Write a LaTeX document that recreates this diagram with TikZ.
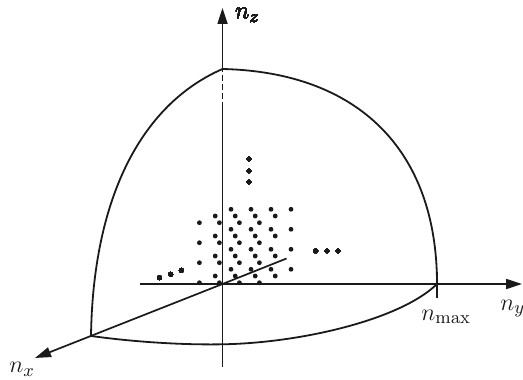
\documentclass[tikz,border=0pt]{standalone}
\usepackage{tikz}
\usetikzlibrary{arrows.meta,calc}
\definecolor{mInk}{HTML}{1A1A1A}
\tikzset{
  axisline/.style={line width=0.85pt, draw=mInk},
  axisarrow/.style={axisline, -{Triangle[length=8pt,width=5pt]}},
  hidline/.style={axisline, dash pattern=on 3pt off 1.5pt},
  shellline/.style={line width=0.9pt, draw=mInk},
  axislabel/.style={anchor=base west, inner sep=0pt, font=\fontsize{13}{15}\selectfont, text=mInk}
}
\newcommand{\ndot}[1]{\fill[mInk] #1 circle (1.2pt);}

\begin{document}
\begin{tikzpicture}[x=0.5pt,y=-0.5pt]
\useasboundingbox (0,0) rectangle (523,379);
% points of the axes and the shell
\coordinate (O) at (222.5,284);
\coordinate (zbot) at (222.5,367);
\coordinate (zhid) at (222.5,108);
\coordinate (ztop) at (222.5,69);
\coordinate (ztip) at (222.5,8);
\coordinate (zlow) at (222.5,344.3);
\coordinate (yback) at (140,284);
\coordinate (ymax) at (437,284);
\coordinate (ytip) at (522,284);
\coordinate (xback) at (286.5,258.5);
\coordinate (xmax) at (91,336);
\coordinate (xtip) at (35,358);
% axes
\draw[axisline] (zbot) -- (zhid);
\draw[hidline] (zhid) -- (ztop);
\draw[axisarrow] (ztop) -- (ztip);
\draw[axisarrow] (yback) -- (ytip);
\draw[axisarrow] (xback) -- (O) -- (xtip);
\draw[axisline] ($(ymax)+(0,-12)$) -- ($(ymax)+(0,14)$);
% octant of the sphere
\draw[shellline] (xmax) .. controls (93,200) and (140,105) .. (ztop);
\draw[shellline] (ztop) .. controls (357,72) and (437,149) .. (ymax);
\draw[shellline] (xmax) .. controls (135,342) and (182,345) .. (zlow)
  .. controls (300,343) and (400,320) .. (ymax);
% lattice points
\foreach \k in {0,1,2}
  \foreach \j in {0,...,3}
    \foreach \i in {0,...,3}
      \ndot{({231+20*\i-15.8*\k},{269.3-20*\j+6.7*\k})}
\foreach \p in {(249,159),(249,171),(249,182),
  (159.5,277.7),(170.7,274.3),(181.3,270.3),
  (315.7,251),(327,251),(338,251)}
  \ndot{\p}
% labels
\node[axislabel] (lz) at (235,18.5) {$n_z$};
\node[axislabel] (ly) at (500,310) {$n_y$};
\node[axislabel] (lx) at (9,372.5) {$n_x$};
\node[axislabel] (lmax) at (421,320) {$n_{\mathrm{max}}$};
\end{tikzpicture}
\end{document}
